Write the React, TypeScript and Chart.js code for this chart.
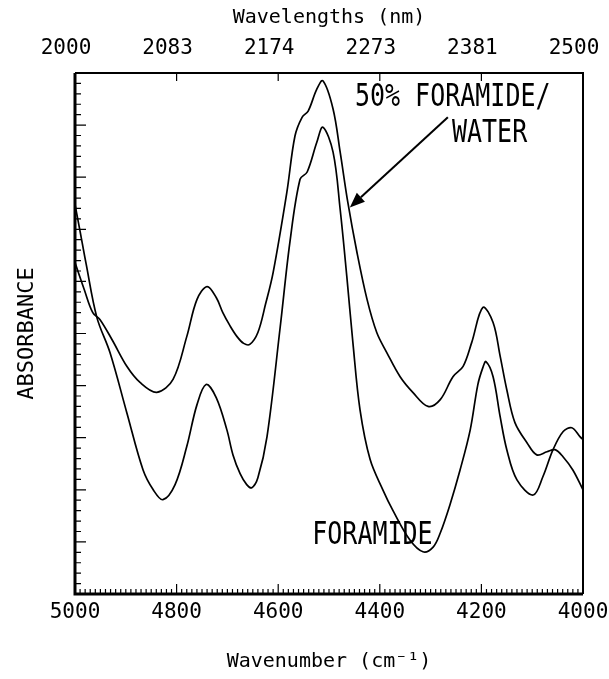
import React, { useEffect, useRef } from 'react';
import { Chart, registerables } from 'chart.js';

Chart.register(...registerables);

// ---- data (wavenumber in cm^-1, absorbance in relative units 0..1) ----
const wnWater = [5000, 4982, 4965, 4951, 4927, 4898, 4872, 4839, 4807, 4780, 4760, 4740, 4722, 4709, 4695, 4681, 4668, 4656, 4640, 4625, 4610, 4583, 4567, 4553, 4541, 4524, 4512, 4492, 4478, 4463, 4445, 4425, 4406, 4386, 4360, 4335, 4305, 4281, 4256, 4236, 4219, 4197, 4177, 4163, 4150, 4134, 4110, 4091, 4071, 4055, 4039, 4020, 4000];
const absWater = [0.636, 0.585, 0.540, 0.527, 0.488, 0.437, 0.406, 0.387, 0.412, 0.494, 0.565, 0.590, 0.569, 0.540, 0.515, 0.494, 0.481, 0.479, 0.502, 0.556, 0.617, 0.771, 0.879, 0.915, 0.927, 0.969, 0.985, 0.931, 0.848, 0.752, 0.656, 0.565, 0.502, 0.463, 0.417, 0.387, 0.360, 0.373, 0.417, 0.437, 0.483, 0.550, 0.521, 0.456, 0.392, 0.329, 0.290, 0.267, 0.273, 0.277, 0.263, 0.238, 0.200];

const wnForamide = [5000, 4990, 4978, 4957, 4931, 4898, 4866, 4846, 4827, 4803, 4780, 4760, 4742, 4722, 4701, 4689, 4675, 4662, 4652, 4640, 4622, 4596, 4577, 4557, 4543, 4524, 4512, 4492, 4478, 4465, 4453, 4439, 4419, 4394, 4374, 4341, 4315, 4295, 4281, 4262, 4242, 4222, 4207, 4197, 4191, 4177, 4163, 4150, 4130, 4098, 4079, 4059, 4039, 4022, 4006, 4000];
const absForamide = [0.748, 0.696, 0.633, 0.531, 0.463, 0.348, 0.238, 0.200, 0.181, 0.210, 0.283, 0.363, 0.402, 0.377, 0.315, 0.267, 0.231, 0.210, 0.204, 0.223, 0.302, 0.513, 0.675, 0.796, 0.810, 0.867, 0.896, 0.848, 0.738, 0.610, 0.483, 0.354, 0.258, 0.200, 0.160, 0.104, 0.081, 0.090, 0.117, 0.171, 0.238, 0.315, 0.402, 0.435, 0.446, 0.417, 0.340, 0.277, 0.219, 0.190, 0.225, 0.277, 0.312, 0.319, 0.302, 0.296];

const wavenumberTicks = [5000, 4800, 4600, 4400, 4200, 4000];
const wavelengthLabels = ['2000', '2083', '2174', '2273', '2381', '2500'];

const xTitle = 'Wavenumber (cm\u207B\u00B9)';
const topTitle = 'Wavelengths (nm)';
const yTitle = 'ABSORBANCE';

const notes = [
  { text: '50% FORAMIDE/', wn: 4449, a: 0.952 },
  { text: 'WATER', wn: 4258, a: 0.884 },
  { text: 'FORAMIDE', wn: 4533, a: 0.112 },
];
const arrowFrom = { wn: 4266, a: 0.915 };
const arrowTo = { wn: 4459, a: 0.742 };

const MONO = '"DejaVu Sans Mono", monospace';

const framePlugin = {
  id: 'frameTicks',
  afterDraw(chart: any) {
    const { ctx, chartArea } = chart;
    const x = chart.scales.x;
    const y = chart.scales.y;
    const { left, right, top, bottom } = chartArea;
    ctx.save();
    ctx.strokeStyle = '#000';
    ctx.fillStyle = '#000';
    ctx.lineCap = 'butt';
    // frame
    ctx.lineWidth = 2;
    ctx.beginPath();
    ctx.moveTo(left, top);
    ctx.lineTo(right, top);
    ctx.lineTo(right, bottom);
    ctx.stroke();
    ctx.lineWidth = 3;
    ctx.beginPath();
    ctx.moveTo(left, top);
    ctx.lineTo(left, bottom);
    ctx.lineTo(right, bottom);
    ctx.stroke();
    // bottom ticks (minor every 10, major every 200)
    ctx.lineWidth = 1.2;
    ctx.beginPath();
    for (let i = 0; i <= 100; i++) {
      const v = 4000 + i * 10;
      const px = x.getPixelForValue(v);
      const len = i % 20 === 0 ? 10 : 5;
      ctx.moveTo(px, bottom);
      ctx.lineTo(px, bottom - len);
    }
    // top ticks at majors
    for (let i = 1; i < 5; i++) {
      const px = x.getPixelForValue(4000 + i * 200);
      ctx.moveTo(px, top);
      ctx.lineTo(px, top + 8);
    }
    // left ticks
    for (let i = 0; i <= 50; i++) {
      const py = y.getPixelForValue(i * 0.02);
      const len = i % 5 === 0 ? 11 : 6;
      ctx.moveTo(left, py);
      ctx.lineTo(left + len, py);
    }
    ctx.stroke();

    // annotations
    ctx.font = '25px ' + MONO;
    ctx.textBaseline = 'middle';
    ctx.textAlign = 'left';
    for (const n of notes) {
      ctx.save();
      ctx.translate(x.getPixelForValue(n.wn), y.getPixelForValue(n.a));
      ctx.scale(1, 1.25);
      ctx.fillText(n.text, 0, 0);
      ctx.restore();
    }
    // arrow
    const x1 = x.getPixelForValue(arrowFrom.wn), y1 = y.getPixelForValue(arrowFrom.a);
    const x2 = x.getPixelForValue(arrowTo.wn), y2 = y.getPixelForValue(arrowTo.a);
    const ang = Math.atan2(y2 - y1, x2 - x1);
    const hl = 15, hw = 6;
    const bx = x2 - hl * Math.cos(ang), by = y2 - hl * Math.sin(ang);
    ctx.lineWidth = 2;
    ctx.beginPath();
    ctx.moveTo(x1, y1);
    ctx.lineTo(bx, by);
    ctx.stroke();
    ctx.beginPath();
    ctx.moveTo(x2, y2);
    ctx.lineTo(bx + hw * Math.sin(ang), by - hw * Math.cos(ang));
    ctx.lineTo(bx - hw * Math.sin(ang), by + hw * Math.cos(ang));
    ctx.closePath();
    ctx.fill();
    ctx.restore();
  },
};

export default function App() {
  const ref = useRef<HTMLCanvasElement | null>(null);
  useEffect(() => {
    document.body.style.margin = '0';
    const canvas = ref.current;
    if (!canvas) return;
    const toPts = (xs: number[], ys: number[]) => xs.map((v, i) => ({ x: v, y: ys[i] }));
    const chart = new Chart(canvas, {
      type: 'line',
      data: {
        datasets: [
          {
            label: '50% Foramide/Water',
            data: toPts(wnWater, absWater),
            borderColor: '#000',
            borderWidth: 1.7,
            pointRadius: 0,
            tension: 0.35,
            fill: false,
          },
          {
            label: 'Foramide',
            data: toPts(wnForamide, absForamide),
            borderColor: '#000',
            borderWidth: 1.7,
            pointRadius: 0,
            tension: 0.35,
            fill: false,
          },
        ],
      },
      options: {
        animation: false,
        responsive: false,
        devicePixelRatio: 1,
        layout: { padding: { right: 26, left: 0, top: 0, bottom: 0 } },
        plugins: { legend: { display: false }, tooltip: { enabled: false } },
        scales: {
          x: {
            type: 'linear',
            position: 'bottom',
            min: 4000,
            max: 5000,
            reverse: true,
            grid: { display: false, drawTicks: false },
            border: { display: false },
            afterBuildTicks: (s: any) => { s.ticks = wavenumberTicks.map((v) => ({ value: v })); },
            afterFit: (s: any) => { s.height = 85; s.paddingLeft = 0; s.paddingRight = 0; },
            ticks: {
              padding: 6,
              maxRotation: 0,
              autoSkip: false,
              color: '#000',
              font: { family: MONO, size: 21 },
              callback: (v: any) => String(v),
            },
            title: {
              display: true,
              text: xTitle,
              color: '#000',
              font: { family: MONO, size: 20 },
              padding: { top: 0, bottom: 5 },
            },
          },
          x2: {
            type: 'linear',
            position: 'top',
            min: 4000,
            max: 5000,
            reverse: true,
            grid: { display: false, drawTicks: false },
            border: { display: false },
            afterBuildTicks: (s: any) => { s.ticks = wavenumberTicks.map((v) => ({ value: v })); },
            afterFit: (s: any) => { s.height = 73; s.paddingLeft = 0; s.paddingRight = 0; },
            ticks: {
              padding: 12,
              labelOffset: -9,
              maxRotation: 0,
              autoSkip: false,
              color: '#000',
              font: { family: MONO, size: 21 },
              callback: (v: any) => wavelengthLabels[wavenumberTicks.indexOf(Number(v))] ?? '',
            },
            title: {
              display: true,
              text: topTitle,
              color: '#000',
              font: { family: MONO, size: 20 },
              padding: { top: 6, bottom: 0 },
            },
          },
          y: {
            type: 'linear',
            position: 'left',
            min: 0,
            max: 1,
            grid: { display: false, drawTicks: false },
            border: { display: false },
            afterFit: (s: any) => { s.width = 75; s.paddingTop = 0; s.paddingBottom = 0; },
            ticks: { display: false },
            title: {
              display: true,
              text: yTitle,
              color: '#000',
              font: { family: MONO, size: 22 },
              padding: { top: 14, bottom: 0 },
            },
          },
        },
      },
      plugins: [framePlugin],
    } as any);
    return () => chart.destroy();
  }, []);
  return (
    <div style={{ position: 'absolute', left: 0, top: 0, width: 609, height: 679, background: '#fff' }}>
      <canvas ref={ref} width={609} height={679} style={{ display: 'block' }} />
    </div>
  );
}
